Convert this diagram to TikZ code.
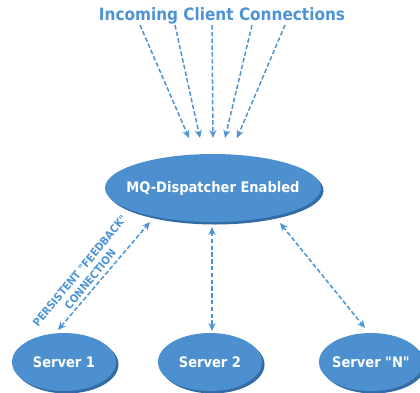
\documentclass[tikz,border=0pt]{standalone}
\usepackage{fontspec}
\newfontfamily\dvs{DejaVu Sans Condensed}
\usetikzlibrary{shapes.geometric,arrows.meta,shadows}
\definecolor{nodeblue}{RGB}{76,144,208}
\definecolor{shadeblue}{RGB}{52,108,165}
\definecolor{linkblue}{RGB}{78,148,212}
\tikzset{
  hub/.style={ellipse, fill=nodeblue, minimum width=216pt, minimum height=68pt, inner sep=0pt,
    drop shadow={shadow xshift=2.5pt, shadow yshift=-2.5pt, fill=shadeblue, opacity=1}},
  srv/.style={hub, minimum width=104pt, minimum height=58pt},
  nodetext/.style={text=white, font=\dvs\bfseries\fontsize{14.5}{16}\selectfont, inner sep=0pt},
  link/.style={draw=linkblue, line width=1.5pt, dash pattern=on 4.5pt off 2.3pt, -{Stealth[length=8pt,width=7pt]}},
  link2/.style={link, {Stealth[length=8pt,width=7pt]}-{Stealth[length=8pt,width=7pt]}},
}
\begin{document}
\begin{tikzpicture}[x=1pt,y=-1pt]
  \useasboundingbox (0,0) rectangle (420,392);
  % title
  \node[text=linkblue, font=\dvs\bfseries\fontsize{17}{19}\selectfont] (title) at (222,16) {Incoming Client Connections};
  % dispatcher and servers
  \node[hub] (disp) at (213,188) {};
  \node[nodetext] (disptext) at (disp.center) {MQ-Dispatcher Enabled};
  \node[srv] (s1) at (64,362) {};
  \node[nodetext] (s1text) at (s1.center) {Server 1};
  \node[srv] (s2) at (210,362) {};
  \node[nodetext] (s2text) at (s2.center) {Server 2};
  \node[srv] (sn) at (371,362) {};
  \node[nodetext] (sntext) at (sn.center) {Server "N"};
  % incoming client connections
  \coordinate (c1) at (140,25);
  \coordinate (c2) at (175,25);
  \coordinate (c3) at (212,25);
  \coordinate (c4) at (252,25);
  \coordinate (c5) at (285,25);
  \coordinate (e1) at (189,138);
  \coordinate (e2) at (200,138);
  \coordinate (e3) at (213,138);
  \coordinate (e4) at (225,138);
  \coordinate (e5) at (237,138);
  \foreach \i in {1,...,5} \draw[link] (c\i) -- (e\i);
  % server links
  \coordinate (f1) at (58,330);
  \coordinate (f2) at (150,222);
  \draw[link2] (f1) -- (f2);
  \coordinate (g1) at (212,227);
  \coordinate (g2) at (212,331);
  \draw[link2] (g1) -- (g2);
  \coordinate (h1) at (280,223);
  \coordinate (h2) at (365,328);
  \draw[link2] (h1) -- (h2);
  % feedback label
  \node[text=linkblue, font=\dvs\bfseries\fontsize{11}{13.5}\selectfont, align=center, rotate=50.5, inner sep=0pt]
    (fb) at (85,275) {PERSISTENT "FEEDBACK"\\CONNECTION};
\end{tikzpicture}
\end{document}
